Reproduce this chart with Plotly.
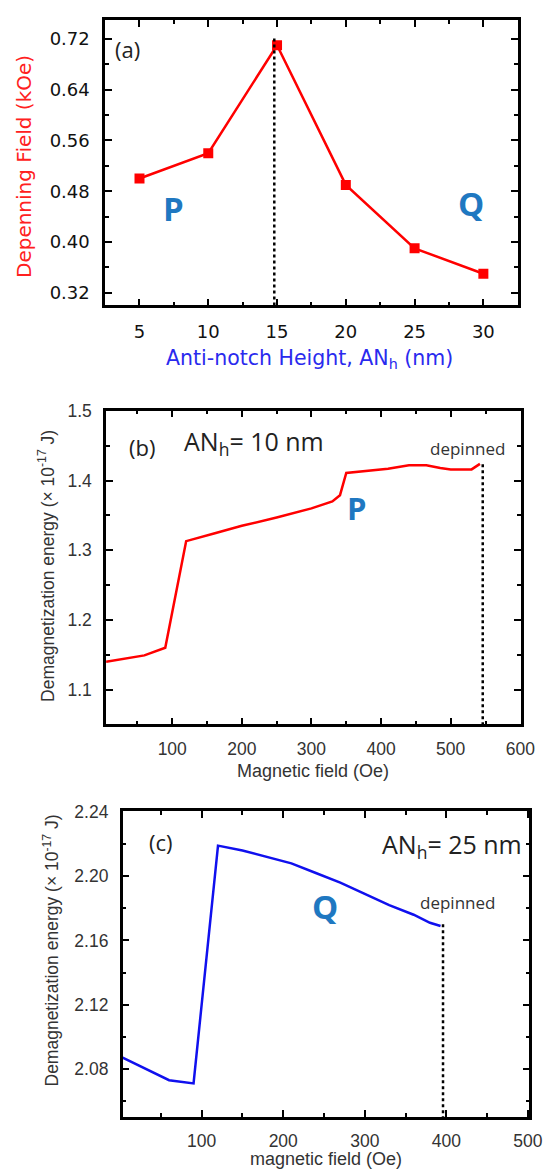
import plotly.graph_objects as go

# ---------------- data ----------------
# (a) depinning field vs anti-notch height
anh_nm = [5, 10, 15, 20, 25, 30]
depin_koe = [0.50, 0.54, 0.71, 0.49, 0.39, 0.35]
a_marker_x = [14.8, 14.8]
a_marker_y = [0.30, 0.724]

# (b) AN_h = 10 nm
field_b = [5, 60, 90, 120, 160, 200, 250, 300, 330, 341, 350, 380, 410, 440, 465, 485, 500, 530, 542]
energy_b = [1.140, 1.149, 1.160, 1.313, 1.324, 1.335, 1.347, 1.360, 1.370, 1.379, 1.411, 1.414,
            1.417, 1.422, 1.422, 1.418, 1.416, 1.416, 1.424]
b_marker_x = [546, 546]
b_marker_y = [1.040, 1.425]

# (c) AN_h = 25 nm
field_c = [3, 60, 90, 120, 150, 180, 210, 240, 270, 300, 330, 360, 380, 393]
energy_c = [2.087, 2.073, 2.071, 2.219, 2.216, 2.212, 2.208, 2.202, 2.196, 2.189, 2.182, 2.176,
            2.171, 2.169]
c_marker_x = [396, 396]
c_marker_y = [2.045, 2.171]

W, H = 560, 1172


def px(x):
    return x / W


def py(y):
    return 1 - y / H


fig = go.Figure()

fig.add_trace(go.Scatter(x=anh_nm, y=depin_koe, mode="lines+markers",
                         line=dict(color="#ff0000", width=2.5),
                         marker=dict(symbol="square", size=10, color="#ff0000"),
                         xaxis="x", yaxis="y", showlegend=False))
fig.add_trace(go.Scatter(x=a_marker_x, y=a_marker_y, mode="lines",
                         line=dict(color="black", width=2.5, dash="dot"),
                         xaxis="x", yaxis="y", showlegend=False, cliponaxis=False))

fig.add_trace(go.Scatter(x=field_b, y=energy_b, mode="lines",
                         line=dict(color="#ff0000", width=2.5),
                         xaxis="x2", yaxis="y2", showlegend=False))
fig.add_trace(go.Scatter(x=b_marker_x, y=b_marker_y, mode="lines",
                         line=dict(color="black", width=2.5, dash="dot"),
                         xaxis="x2", yaxis="y2", showlegend=False, cliponaxis=False))

fig.add_trace(go.Scatter(x=field_c, y=energy_c, mode="lines",
                         line=dict(color="#1010ee", width=2.5),
                         xaxis="x3", yaxis="y3", showlegend=False))
fig.add_trace(go.Scatter(x=c_marker_x, y=c_marker_y, mode="lines",
                         line=dict(color="black", width=2.5, dash="dot"),
                         xaxis="x3", yaxis="y3", showlegend=False, cliponaxis=False))


def ax(domain, rng, dtick, minor, tick0, fmt, font, anchor, standoff):
    d = dict(domain=domain, range=rng, dtick=dtick, tick0=tick0,
             showline=True, linecolor="black", linewidth=2.5, mirror="ticks",
             ticks="inside", ticklen=7, tickwidth=2, tickcolor="black",
             minor=dict(ticks="inside", ticklen=4, tickwidth=2, tickcolor="black", dtick=minor,
                        tick0=tick0),
             showgrid=False, zeroline=False, anchor=anchor,
             tickfont=font, ticklabelstandoff=standoff)
    if fmt:
        d["tickformat"] = fmt
    return d


fa = dict(family="DejaVu Sans", size=18, color="#111")
fb = dict(family="Liberation Sans, Arial", size=17.5, color="#333")

fig.update_layout(
    width=W, height=H, margin=dict(l=0, r=0, t=0, b=0),
    paper_bgcolor="white", plot_bgcolor="white",
    xaxis=ax([px(108), px(532)], [2.5, 32.5], 5, 2.5, 0, None, fa, "y", 8),
    yaxis=ax([py(298), py(10)], [0.30, 0.75], 0.08, 0.04, 0.32, ".2f", fa, "x", 9),
    xaxis2=ax([px(109), px(535)], [5, 600.5], 100, 50, 0, None, fb, "y2", 7),
    yaxis2=ax([py(720.5), py(404)], [1.05, 1.5005], 0.1, 0.05, 1.1, ".1f", fb, "x2", 8),
    xaxis3=ax([px(126), px(544)], [3, 502], 100, 50, 0, None, fb, "y3", 6),
    yaxis3=ax([py(1116.7), py(808)], [2.05, 2.2405], 0.04, 0.02, 2.08, ".2f", fb, "x3", 8),
)

ann_font = "Open Sans, Noto Sans"
label_blue = "#1f78c1"
anns = [
    # axis titles
    dict(text="Anti-notch Height, AN<sub>h</sub> (nm)", x=px(318), y=py(352),
         font=dict(family="DejaVu Sans", size=20.5, color="#2a2aee")),
    dict(text="Depenning Field (kOe)", x=px(24), y=py(158), textangle=-90,
         font=dict(family="DejaVu Sans", size=20, color="#ff2020")),
    dict(text="Magnetic field (Oe)", x=px(322), y=py(768),
         font=dict(family="Liberation Sans, Arial", size=18, color="#333")),
    dict(text="Demagnetization energy (× 10<sup>-17</sup> J)", x=px(48), y=py(561), textangle=-90,
         font=dict(family="Liberation Sans, Arial", size=17.5, color="#333")),
    dict(text="magnetic field (Oe)", x=px(335), y=py(1159),
         font=dict(family="Liberation Sans, Arial", size=18, color="#333")),
    dict(text="Demagnetization energy (× 10<sup>-17</sup> J)", x=px(52), y=py(949), textangle=-90,
         font=dict(family="Liberation Sans, Arial", size=17.5, color="#333")),
    # panel labels
    dict(text="(a)", x=px(131), y=py(39), font=dict(family=ann_font, size=22, color="#222")),
    dict(text="(b)", x=px(146), y=py(441), font=dict(family=ann_font, size=22, color="#222")),
    dict(text="(c)", x=px(165), y=py(839), font=dict(family=ann_font, size=22, color="#222")),
    dict(text="AN<sub>h</sub>= 10 nm", x=px(187), y=py(436), xanchor="left",
         font=dict(family=ann_font, size=25, color="#222")),
    dict(text="AN<sub>h</sub>= 25 nm", x=px(538), y=py(843), xanchor="right",
         font=dict(family=ann_font, size=25, color="#222")),
    dict(text="depinned", x=px(480), y=py(442), font=dict(family=ann_font, size=17, color="#333")),
    dict(text="depinned", x=px(470), y=py(900), font=dict(family=ann_font, size=17, color="#333")),
    # region labels
    dict(text="<b>P</b>", x=px(178), y=py(200), font=dict(family=ann_font, size=33, color=label_blue)),
    dict(text="<b>Q</b>", x=px(484), y=py(195), font=dict(family=ann_font, size=33, color=label_blue)),
    dict(text="<b>P</b>", x=px(366), y=py(502), font=dict(family=ann_font, size=31, color=label_blue)),
    dict(text="<b>Q</b>", x=px(334), y=py(904), font=dict(family=ann_font, size=33, color=label_blue)),
]
for a in anns:
    a.setdefault("xanchor", "center")
    a.setdefault("yanchor", "middle")
    a.update(xref="paper", yref="paper", showarrow=False)
fig.update_layout(annotations=anns)

fig.write_html("out.html", config={"displayModeBar": False},
               post_script="document.body.style.margin='0';document.body.style.padding='0';")
